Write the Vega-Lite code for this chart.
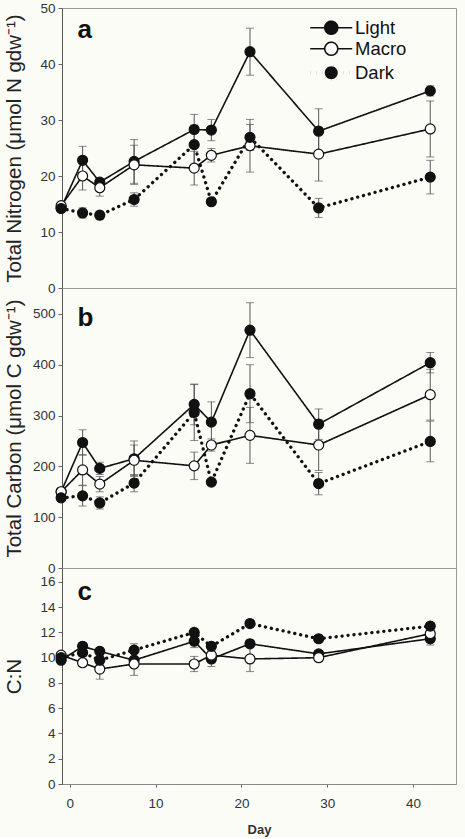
{
  "$schema": "https://vega.github.io/schema/vega-lite/v6.json",
  "background": "#fcfcf7",
  "padding": {"left": 3, "top": 0, "right": 9, "bottom": 0},
  "bounds": "flush",
  "spacing": 0,
  "resolve": {"scale": {"fill": "independent", "strokeDash": "independent", "strokeWidth": "independent"}, "legend": {"fill": "independent", "strokeDash": "independent", "strokeWidth": "independent"}},
  "config": {
    "font": "Liberation Sans",
    "view": {"stroke": "#999", "strokeWidth": 1},
    "axis": {"labelFont": "Liberation Sans", "labelFontSize": 13.5, "labelColor": "#333", "labelOverlap": false, "titleFont": "Liberation Sans", "titleFontWeight": "normal", "titleFontSize": 20.5, "titleColor": "#222", "tickColor": "#666", "domainColor": "#555", "grid": false, "tickSize": 4, "labelPadding": 3}
  },
  "datasets": {
    "d": [
      {"day": -1, "series": "Light", "N": 14.3, "Nse": 0.5, "C": 150, "Cse": 5, "CN": 9.8, "CNse": 0.2},
      {"day": 1.5, "series": "Light", "N": 22.8, "Nse": 2.5, "C": 247, "Cse": 25, "CN": 10.9, "CNse": 0.3},
      {"day": 3.5, "series": "Light", "N": 18.9, "Nse": 0.6, "C": 196, "Cse": 12, "CN": 10.5, "CNse": 0.3},
      {"day": 7.5, "series": "Light", "N": 22.6, "Nse": 3.9, "C": 215, "Cse": 35, "CN": 9.8, "CNse": 0.3},
      {"day": 14.5, "series": "Light", "N": 28.3, "Nse": 2.7, "C": 322, "Cse": 40, "CN": 11.3, "CNse": 0.5},
      {"day": 16.5, "series": "Light", "N": 28.2, "Nse": 1.9, "C": 287, "Cse": 40, "CN": 9.9, "CNse": 0.3},
      {"day": 21, "series": "Light", "N": 42.2, "Nse": 4.2, "C": 468, "Cse": 54, "CN": 11.1, "CNse": 0.3},
      {"day": 29, "series": "Light", "N": 28.0, "Nse": 4.0, "C": 283, "Cse": 30, "CN": 10.3, "CNse": 0.2},
      {"day": 42, "series": "Light", "N": 35.2, "Nse": 0.9, "C": 404, "Cse": 20, "CN": 11.5, "CNse": 0.5},
      {"day": -1, "series": "Macro", "N": 14.7, "Nse": 0.4, "C": 150, "Cse": 5, "CN": 10.2, "CNse": 0.2},
      {"day": 1.5, "series": "Macro", "N": 20.0, "Nse": 2.5, "C": 193, "Cse": 30, "CN": 9.6, "CNse": 0.3},
      {"day": 3.5, "series": "Macro", "N": 17.9, "Nse": 1.5, "C": 165, "Cse": 15, "CN": 9.1, "CNse": 0.8},
      {"day": 7.5, "series": "Macro", "N": 22.0, "Nse": 3.5, "C": 212, "Cse": 30, "CN": 9.5, "CNse": 0.9},
      {"day": 14.5, "series": "Macro", "N": 21.4, "Nse": 3.0, "C": 201, "Cse": 27, "CN": 9.5, "CNse": 0.6},
      {"day": 16.5, "series": "Macro", "N": 23.7, "Nse": 1.2, "C": 242, "Cse": 12, "CN": 10.2, "CNse": 0.9},
      {"day": 21, "series": "Macro", "N": 25.4, "Nse": 4.7, "C": 261, "Cse": 55, "CN": 9.9, "CNse": 1.0},
      {"day": 29, "series": "Macro", "N": 23.9, "Nse": 4.8, "C": 242, "Cse": 50, "CN": 10.0, "CNse": 0.3},
      {"day": 42, "series": "Macro", "N": 28.4, "Nse": 5.0, "C": 341, "Cse": 50, "CN": 11.9, "CNse": 0.3},
      {"day": -1, "series": "Dark", "N": 14.2, "Nse": 0.4, "C": 138, "Cse": 5, "CN": 10.0, "CNse": 0.2},
      {"day": 1.5, "series": "Dark", "N": 13.4, "Nse": 0.9, "C": 142, "Cse": 20, "CN": 10.4, "CNse": 0.3},
      {"day": 3.5, "series": "Dark", "N": 13.0, "Nse": 0.7, "C": 128, "Cse": 12, "CN": 9.8, "CNse": 0.3},
      {"day": 7.5, "series": "Dark", "N": 15.8, "Nse": 1.2, "C": 167, "Cse": 17, "CN": 10.6, "CNse": 0.5},
      {"day": 14.5, "series": "Dark", "N": 25.6, "Nse": 3.5, "C": 306, "Cse": 55, "CN": 12.0, "CNse": 0.3},
      {"day": 16.5, "series": "Dark", "N": 15.4, "Nse": 0.5, "C": 169, "Cse": 5, "CN": 10.9, "CNse": 0.3},
      {"day": 21, "series": "Dark", "N": 26.9, "Nse": 2.3, "C": 343, "Cse": 57, "CN": 12.7, "CNse": 0.2},
      {"day": 29, "series": "Dark", "N": 14.3, "Nse": 1.7, "C": 166, "Cse": 22, "CN": 11.5, "CNse": 0.2},
      {"day": 42, "series": "Dark", "N": 19.8, "Nse": 3.0, "C": 249, "Cse": 40, "CN": 12.5, "CNse": 0.3}
    ]
  },
  "vconcat": [
    {
      "width": 394, "height": 280,
      "layer": [
        {"data": {"name": "d"}, "mark": {"type": "errorbar", "ticks": {"size": 8}, "color": "#555", "thickness": 1},
         "encoding": {
          "x": {"field": "day", "type": "quantitative", "scale": {"domain": [-0.9, 45], "nice": false, "zero": false}, "axis": {"labels": false, "ticks": false, "title": null, "domainColor": "#888"}},
          "y": {"field": "N", "type": "quantitative", "scale": {"domain": [0, 50], "nice": false}, "title": "Total Nitrogen (μmol N gdw⁻¹)", "axis": {"values": [0, 10, 20, 30, 40, 50], "title": "Total Nitrogen (μmol N gdw⁻¹)", "titlePadding": 15, "labelOverlap": false}},
          "yError": {"field": "Nse"}, "detail": {"field": "series"}}},
        {"data": {"name": "d"}, "mark": {"type": "line", "color": "#111", "strokeCap": "round"},
         "encoding": {
          "x": {"field": "day", "type": "quantitative", "axis": {"labels": false, "ticks": false, "title": null, "domainColor": "#888"}},
          "y": {"field": "N", "type": "quantitative", "axis": {"values": [0, 10, 20, 30, 40, 50], "title": "Total Nitrogen (μmol N gdw⁻¹)", "titlePadding": 15, "labelOverlap": false}},
          "strokeDash": {"field": "series", "type": "nominal", "scale": {"domain": ["Light", "Macro", "Dark"], "range": [[1, 0], [1, 0], [0.1, 5.9]]}, "legend": {"title": null}},
          "strokeWidth": {"field": "series", "type": "nominal", "scale": {"type": "ordinal", "domain": ["Light", "Macro", "Dark"], "range": [1.6, 1.6, 3.3]}, "legend": {"title": null}}}},
        {"data": {"name": "d"}, "mark": {"type": "point", "filled": true, "size": 100, "stroke": "#111", "strokeWidth": 1.2, "opacity": 1},
         "encoding": {
          "x": {"field": "day", "type": "quantitative", "axis": {"labels": false, "ticks": false, "title": null, "domainColor": "#888"}},
          "y": {"field": "N", "type": "quantitative", "axis": {"values": [0, 10, 20, 30, 40, 50], "title": "Total Nitrogen (μmol N gdw⁻¹)", "titlePadding": 15, "labelOverlap": false}},
          "fill": {"field": "series", "type": "nominal", "scale": {"domain": ["Light", "Macro", "Dark"], "range": ["#111111", "#ffffff", "#111111"]},
           "legend": {"title": null, "orient": "none", "legendX": 260, "legendY": 10.5, "symbolType": "M-3.23,0H-1M1,0H3.23M-1,0A1,1 0 1,1 1,0A1,1 0 1,1 -1,0Z", "symbolSize": 169, "symbolStrokeColor": "#111", "labelFont": "Liberation Sans", "labelFontSize": 18.5, "labelColor": "#111", "labelOffset": 14.5, "rowPadding": 1, "padding": 0}}}},
        {"data": {"values": [{"panel": "a"}]}, "mark": {"type": "text", "fontSize": 26, "fontWeight": "bold", "font": "Liberation Sans", "color": "#111", "align": "left", "baseline": "alphabetic"},
         "encoding": {
          "x": {"datum": 0.9, "type": "quantitative", "axis": {"labels": false, "ticks": false, "title": null, "domainColor": "#888"}},
          "y": {"datum": 44.6, "type": "quantitative", "axis": {"values": [0, 10, 20, 30, 40, 50], "title": "Total Nitrogen (μmol N gdw⁻¹)", "titlePadding": 15, "labelOverlap": false}},
          "text": {"field": "panel"}}}
      ]
    },
    {
      "width": 394, "height": 280,
      "layer": [
        {"data": {"name": "d"}, "mark": {"type": "errorbar", "ticks": {"size": 8}, "color": "#555", "thickness": 1},
         "encoding": {
          "x": {"field": "day", "type": "quantitative", "scale": {"domain": [-0.9, 45], "nice": false, "zero": false}, "axis": {"labels": false, "ticks": false, "title": null, "domainColor": "#888"}},
          "y": {"field": "C", "type": "quantitative", "scale": {"domain": [0, 551], "nice": false}, "title": "Total Carbon (μmol C gdw⁻¹)", "axis": {"values": [0, 100, 200, 300, 400, 500], "title": "Total Carbon (μmol C gdw⁻¹)", "titlePadding": 8, "labelOverlap": false}},
          "yError": {"field": "Cse"}, "detail": {"field": "series"}}},
        {"data": {"name": "d"}, "mark": {"type": "line", "color": "#111", "strokeCap": "round"},
         "encoding": {
          "x": {"field": "day", "type": "quantitative", "axis": {"labels": false, "ticks": false, "title": null, "domainColor": "#888"}},
          "y": {"field": "C", "type": "quantitative", "axis": {"values": [0, 100, 200, 300, 400, 500], "title": "Total Carbon (μmol C gdw⁻¹)", "titlePadding": 8, "labelOverlap": false}},
          "strokeDash": {"field": "series", "type": "nominal", "scale": {"domain": ["Light", "Macro", "Dark"], "range": [[1, 0], [1, 0], [0.1, 5.9]]}, "legend": null},
          "strokeWidth": {"field": "series", "type": "nominal", "scale": {"type": "ordinal", "domain": ["Light", "Macro", "Dark"], "range": [1.6, 1.6, 3.3]}, "legend": null}}},
        {"data": {"name": "d"}, "mark": {"type": "point", "filled": true, "size": 100, "stroke": "#111", "strokeWidth": 1.2, "opacity": 1},
         "encoding": {
          "x": {"field": "day", "type": "quantitative", "axis": {"labels": false, "ticks": false, "title": null, "domainColor": "#888"}},
          "y": {"field": "C", "type": "quantitative", "axis": {"values": [0, 100, 200, 300, 400, 500], "title": "Total Carbon (μmol C gdw⁻¹)", "titlePadding": 8, "labelOverlap": false}},
          "fill": {"field": "series", "type": "nominal", "scale": {"domain": ["Light", "Macro", "Dark"], "range": ["#111111", "#ffffff", "#111111"]}, "legend": null}}},
        {"data": {"values": [{"panel": "b"}]}, "mark": {"type": "text", "fontSize": 26, "fontWeight": "bold", "font": "Liberation Sans", "color": "#111", "align": "left", "baseline": "alphabetic"},
         "encoding": {
          "x": {"datum": 0.9, "type": "quantitative", "axis": {"labels": false, "ticks": false, "title": null, "domainColor": "#888"}},
          "y": {"datum": 476, "type": "quantitative", "axis": {"values": [0, 100, 200, 300, 400, 500], "title": "Total Carbon (μmol C gdw⁻¹)", "titlePadding": 8, "labelOverlap": false}},
          "text": {"field": "panel"}}}
      ]
    },
    {
      "width": 394, "height": 216,
      "layer": [
        {"data": {"name": "d"}, "mark": {"type": "errorbar", "ticks": {"size": 8}, "color": "#555", "thickness": 1},
         "encoding": {
          "x": {"field": "day", "type": "quantitative", "scale": {"domain": [-0.9, 45], "nice": false, "zero": false}, "title": "Day", "axis": {"values": [0, 10, 20, 30, 40], "title": "Day", "titleFontWeight": "bold", "titleFontSize": 13, "titleColor": "#333", "tickSize": 3, "labelPadding": 9, "titlePadding": 14, "domainColor": "#888"}},
          "y": {"field": "CN", "type": "quantitative", "scale": {"domain": [0, 17.1], "nice": false}, "title": "C:N", "axis": {"values": [0, 2, 4, 6, 8, 10, 12, 14, 16], "title": "C:N", "titlePadding": 15, "labelOverlap": false}},
          "yError": {"field": "CNse"}, "detail": {"field": "series"}}},
        {"data": {"name": "d"}, "mark": {"type": "line", "color": "#111", "strokeCap": "round"},
         "encoding": {
          "x": {"field": "day", "type": "quantitative", "axis": {"values": [0, 10, 20, 30, 40], "title": "Day", "titleFontWeight": "bold", "titleFontSize": 13, "titleColor": "#333", "tickSize": 3, "labelPadding": 9, "titlePadding": 14, "domainColor": "#888"}},
          "y": {"field": "CN", "type": "quantitative", "axis": {"values": [0, 2, 4, 6, 8, 10, 12, 14, 16], "title": "C:N", "titlePadding": 15, "labelOverlap": false}},
          "strokeDash": {"field": "series", "type": "nominal", "scale": {"domain": ["Light", "Macro", "Dark"], "range": [[1, 0], [1, 0], [0.1, 5.9]]}, "legend": null},
          "strokeWidth": {"field": "series", "type": "nominal", "scale": {"type": "ordinal", "domain": ["Light", "Macro", "Dark"], "range": [1.6, 1.6, 3.3]}, "legend": null}}},
        {"data": {"name": "d"}, "mark": {"type": "point", "filled": true, "size": 100, "stroke": "#111", "strokeWidth": 1.2, "opacity": 1},
         "encoding": {
          "x": {"field": "day", "type": "quantitative", "axis": {"values": [0, 10, 20, 30, 40], "title": "Day", "titleFontWeight": "bold", "titleFontSize": 13, "titleColor": "#333", "tickSize": 3, "labelPadding": 9, "titlePadding": 14, "domainColor": "#888"}},
          "y": {"field": "CN", "type": "quantitative", "axis": {"values": [0, 2, 4, 6, 8, 10, 12, 14, 16], "title": "C:N", "titlePadding": 15, "labelOverlap": false}},
          "fill": {"field": "series", "type": "nominal", "scale": {"domain": ["Light", "Macro", "Dark"], "range": ["#111111", "#ffffff", "#111111"]}, "legend": null}}},
        {"data": {"values": [{"panel": "c"}]}, "mark": {"type": "text", "fontSize": 26, "fontWeight": "bold", "font": "Liberation Sans", "color": "#111", "align": "left", "baseline": "alphabetic"},
         "encoding": {
          "x": {"datum": 0.9, "type": "quantitative", "axis": {"values": [0, 10, 20, 30, 40], "title": "Day", "titleFontWeight": "bold", "titleFontSize": 13, "titleColor": "#333", "tickSize": 3, "labelPadding": 9, "titlePadding": 14, "domainColor": "#888"}},
          "y": {"datum": 14.6, "type": "quantitative", "axis": {"values": [0, 2, 4, 6, 8, 10, 12, 14, 16], "title": "C:N", "titlePadding": 15, "labelOverlap": false}},
          "text": {"field": "panel"}}}
      ]
    }
  ]
}
